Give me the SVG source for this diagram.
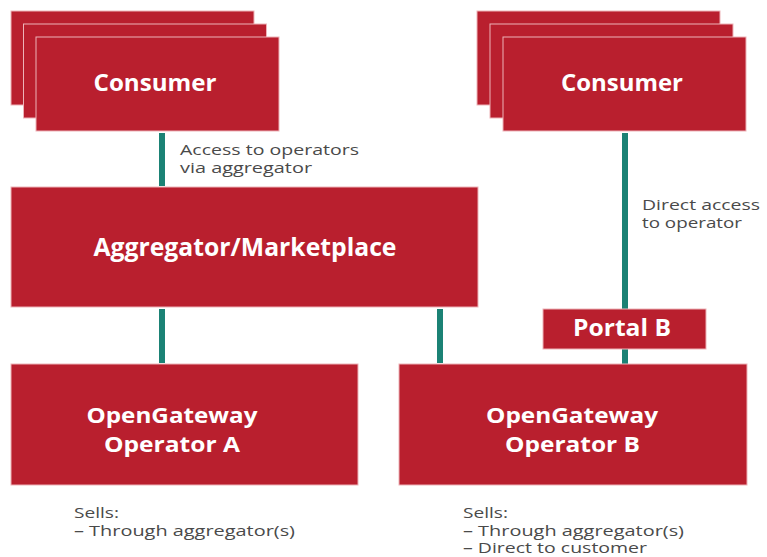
<svg xmlns="http://www.w3.org/2000/svg" width="767" height="557" viewBox="0 0 767 557">
<style>
.box{fill:#B91F2E;stroke:#EDB3B8;stroke-width:1}
.title{font-family:"Open Sans","Liberation Sans",sans-serif;font-weight:700;fill:#ffffff;text-anchor:middle}
.lbl{font-family:"Open Sans","Liberation Sans",sans-serif;font-size:15px;fill:#4A4A4A}
.conn{stroke:#1B8275;stroke-width:6;fill:none}
</style>
<rect width="767" height="557" fill="#ffffff"/>
<g id="connectors">
<line class="conn" x1="162" y1="133" x2="162" y2="186"/>
<line class="conn" x1="162" y1="309" x2="162" y2="363"/>
<line class="conn" x1="440" y1="309" x2="440" y2="363"/>
<line class="conn" x1="625" y1="133" x2="625" y2="309"/>
<line class="conn" x1="625" y1="349" x2="625" y2="364"/>
</g>
<g id="consumer-left">
<rect class="box" x="11" y="11" width="243" height="94"/>
<rect class="box" x="23.5" y="24" width="243" height="94"/>
<rect class="box" x="36" y="37" width="243" height="94"/>
<text class="title" x="155" y="91" font-size="23" textLength="123" lengthAdjust="spacingAndGlyphs">Consumer</text>
</g>
<g id="consumer-right">
<rect class="box" x="477" y="11" width="243" height="94"/>
<rect class="box" x="490" y="24" width="243" height="94"/>
<rect class="box" x="503" y="37" width="243" height="94"/>
<text class="title" x="622" y="91" font-size="23" textLength="122" lengthAdjust="spacingAndGlyphs">Consumer</text>
</g>
<g id="label-aggregator-access">
<text class="lbl" x="180" y="155" textLength="179" lengthAdjust="spacingAndGlyphs">Access to operators</text>
<text class="lbl" x="180" y="173" textLength="132" lengthAdjust="spacingAndGlyphs">via aggregator</text>
</g>
<g id="label-direct-access">
<text class="lbl" x="642" y="210" textLength="118" lengthAdjust="spacingAndGlyphs">Direct access</text>
<text class="lbl" x="642" y="228" textLength="100" lengthAdjust="spacingAndGlyphs">to operator</text>
</g>
<g id="aggregator">
<rect class="box" x="11" y="187" width="467" height="120"/>
<text class="title" x="245" y="256" font-size="25" textLength="303" lengthAdjust="spacingAndGlyphs">Aggregator/Marketplace</text>
</g>
<g id="portal-b">
<rect class="box" x="543" y="309" width="163" height="40"/>
<text class="title" x="622" y="336" font-size="24" textLength="98" lengthAdjust="spacingAndGlyphs">Portal B</text>
</g>
<g id="operator-a">
<rect class="box" x="11" y="364" width="347" height="121"/>
<text class="title" x="172" y="423" font-size="21" textLength="171" lengthAdjust="spacingAndGlyphs">OpenGateway</text>
<text class="title" x="172" y="452" font-size="21" textLength="136" lengthAdjust="spacingAndGlyphs">Operator A</text>
</g>
<g id="operator-b">
<rect class="box" x="399" y="364" width="348" height="121"/>
<text class="title" x="572" y="423" font-size="21" textLength="172" lengthAdjust="spacingAndGlyphs">OpenGateway</text>
<text class="title" x="572.5" y="452" font-size="21" textLength="135" lengthAdjust="spacingAndGlyphs">Operator B</text>
</g>
<g id="notes-a">
<text class="lbl" x="74" y="518" textLength="45" lengthAdjust="spacingAndGlyphs">Sells:</text>
<text class="lbl" x="74" y="536" textLength="221" lengthAdjust="spacingAndGlyphs">– Through aggregator(s)</text>
</g>
<g id="notes-b">
<text class="lbl" x="463" y="518" textLength="45" lengthAdjust="spacingAndGlyphs">Sells:</text>
<text class="lbl" x="463" y="536" textLength="221" lengthAdjust="spacingAndGlyphs">– Through aggregator(s)</text>
<text class="lbl" x="463" y="553" textLength="184" lengthAdjust="spacingAndGlyphs">– Direct to customer</text>
</g>
</svg>
